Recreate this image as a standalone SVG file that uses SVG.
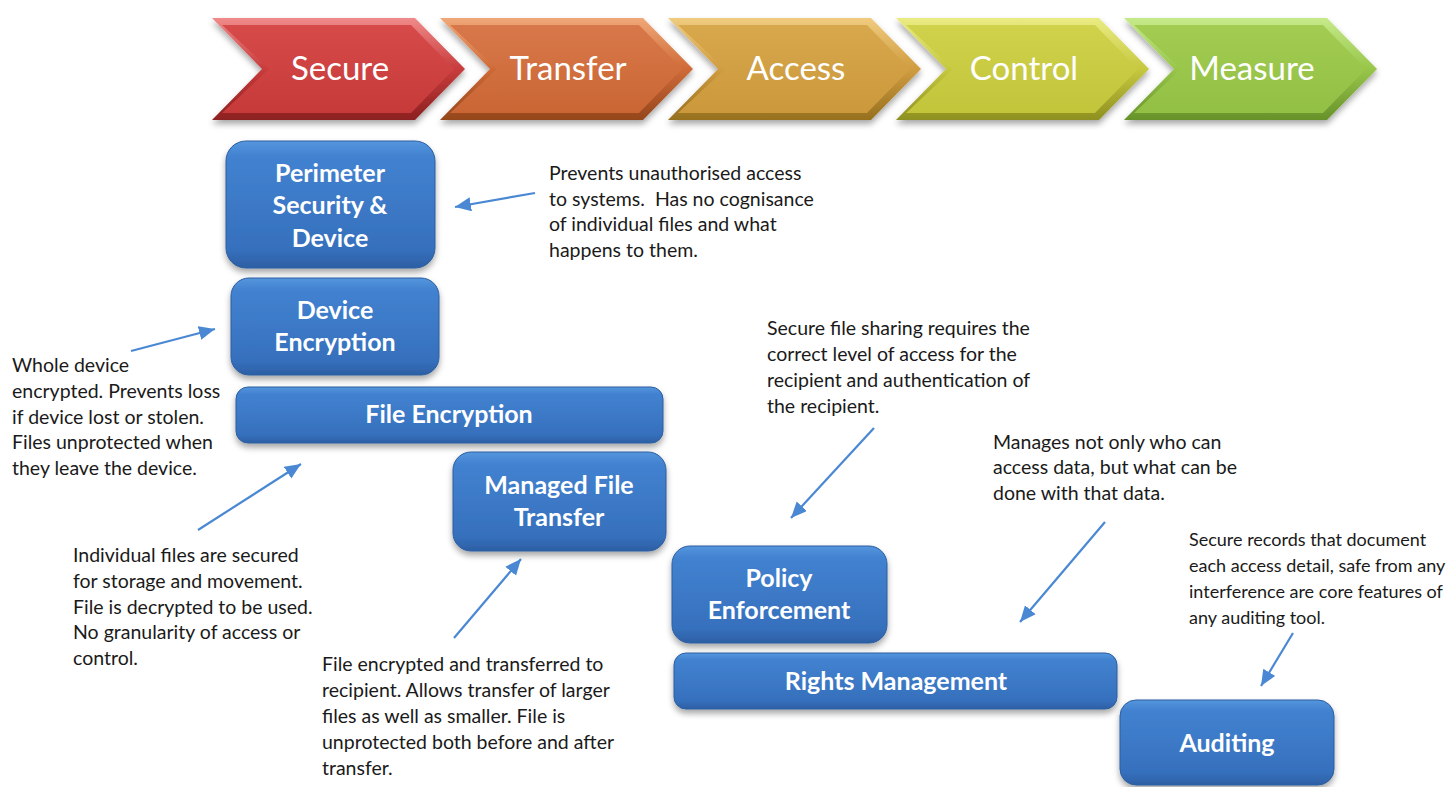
<svg xmlns="http://www.w3.org/2000/svg" width="1447" height="787" viewBox="0 0 1447 787">
  <defs>
    <style>
      .chev-text { font-family: Lato, "Liberation Sans", sans-serif; font-size: 33px; fill: #ffffff; text-anchor: middle; }
      .box-text { font-family: Lato, "Liberation Sans", sans-serif; font-size: 25px; font-weight: bold; fill: #ffffff; text-anchor: middle; }
      .note { font-family: Lato, "Liberation Sans", sans-serif; font-size: 19.5px; fill: #1a1a1a; }
      .note.compact { font-size: 18px; }
      .box { fill: url(#boxFill); stroke: #2c5e9f; stroke-width: 1; filter: url(#shadow); }
      .conn { stroke: #4a88d4; stroke-width: 2.2; fill: none; marker-end: url(#head); }
    </style>
    <filter id="shadow" x="-10%" y="-10%" width="120%" height="130%">
      <feDropShadow dx="0" dy="4" stdDeviation="3" flood-color="#000000" flood-opacity="0.35"/>
    </filter>
    <linearGradient id="boxFill" x1="0" y1="0" x2="0" y2="1">
      <stop offset="0" stop-color="#5596de"/>
      <stop offset="0.12" stop-color="#4282d0"/>
      <stop offset="0.85" stop-color="#3670bd"/>
      <stop offset="1" stop-color="#2d5fa4"/>
    </linearGradient>
    <!-- chevron bevels: edge gradient (light top, dark bottom) and face gradient -->
    <linearGradient id="edgeRed" x1="0" y1="0" x2="0" y2="1"><stop offset="0" stop-color="#f08a8a"/><stop offset="0.5" stop-color="#c83c3c"/><stop offset="1" stop-color="#8c2020"/></linearGradient>
    <linearGradient id="faceRed" x1="0" y1="0" x2="0" y2="1"><stop offset="0" stop-color="#d64a4a"/><stop offset="1" stop-color="#c63a3a"/></linearGradient>
    <linearGradient id="edgeOrange" x1="0" y1="0" x2="0" y2="1"><stop offset="0" stop-color="#f0a878"/><stop offset="0.5" stop-color="#cf6a38"/><stop offset="1" stop-color="#94461c"/></linearGradient>
    <linearGradient id="faceOrange" x1="0" y1="0" x2="0" y2="1"><stop offset="0" stop-color="#d8784a"/><stop offset="1" stop-color="#ca6634"/></linearGradient>
    <linearGradient id="edgeGold" x1="0" y1="0" x2="0" y2="1"><stop offset="0" stop-color="#f0cc80"/><stop offset="0.5" stop-color="#d09c40"/><stop offset="1" stop-color="#96701e"/></linearGradient>
    <linearGradient id="faceGold" x1="0" y1="0" x2="0" y2="1"><stop offset="0" stop-color="#d8a84c"/><stop offset="1" stop-color="#cc983c"/></linearGradient>
    <linearGradient id="edgeLime" x1="0" y1="0" x2="0" y2="1"><stop offset="0" stop-color="#eaec84"/><stop offset="0.5" stop-color="#c6c840"/><stop offset="1" stop-color="#8e9020"/></linearGradient>
    <linearGradient id="faceLime" x1="0" y1="0" x2="0" y2="1"><stop offset="0" stop-color="#d0d24c"/><stop offset="1" stop-color="#c2c43a"/></linearGradient>
    <linearGradient id="edgeGreen" x1="0" y1="0" x2="0" y2="1"><stop offset="0" stop-color="#c6ea8a"/><stop offset="0.5" stop-color="#98c64a"/><stop offset="1" stop-color="#66922a"/></linearGradient>
    <linearGradient id="faceGreen" x1="0" y1="0" x2="0" y2="1"><stop offset="0" stop-color="#a2cc52"/><stop offset="1" stop-color="#92c044"/></linearGradient>
    <marker id="head" markerUnits="userSpaceOnUse" markerWidth="18" markerHeight="16" refX="16" refY="7" orient="auto">
      <path d="M0,0 L16,7 L0,14 Z" fill="#4a88d4"/>
    </marker>
    <!-- one chevron outline, reused for each step -->
    <polygon id="chevOuter" points="0,18 203,18 253,69 203,120 0,120 50,69"/>
    <polygon id="chevInner" points="10,25 199,25 242,69 199,113 10,113 57,69"/>
  </defs>

  <rect width="1447" height="787" fill="#ffffff"/>

  <!-- process steps -->
  <g id="step-secure" transform="translate(212,0)">
    <use href="#chevOuter" fill="url(#edgeRed)" filter="url(#shadow)"/>
    <use href="#chevInner" fill="url(#faceRed)"/>
    <text class="chev-text" x="128" y="80">Secure</text>
  </g>
  <g id="step-transfer" transform="translate(440,0)">
    <use href="#chevOuter" fill="url(#edgeOrange)" filter="url(#shadow)"/>
    <use href="#chevInner" fill="url(#faceOrange)"/>
    <text class="chev-text" x="128" y="80">Transfer</text>
  </g>
  <g id="step-access" transform="translate(668,0)">
    <use href="#chevOuter" fill="url(#edgeGold)" filter="url(#shadow)"/>
    <use href="#chevInner" fill="url(#faceGold)"/>
    <text class="chev-text" x="128" y="80">Access</text>
  </g>
  <g id="step-control" transform="translate(896,0)">
    <use href="#chevOuter" fill="url(#edgeLime)" filter="url(#shadow)"/>
    <use href="#chevInner" fill="url(#faceLime)"/>
    <text class="chev-text" x="128" y="80">Control</text>
  </g>
  <g id="step-measure" transform="translate(1124,0)">
    <use href="#chevOuter" fill="url(#edgeGreen)" filter="url(#shadow)"/>
    <use href="#chevInner" fill="url(#faceGreen)"/>
    <text class="chev-text" x="128" y="80">Measure</text>
  </g>

  <!-- capability blocks -->
  <g id="perimeter">
    <rect class="box" x="226" y="141" width="209" height="127" rx="20"/>
    <text class="box-text" x="330" y="182">Perimeter</text>
    <text class="box-text" x="330" y="214">Security &amp;</text>
    <text class="box-text" x="330" y="247">Device</text>
  </g>
  <g id="device-encryption">
    <rect class="box" x="231" y="278" width="208" height="97" rx="18"/>
    <text class="box-text" x="335" y="319">Device</text>
    <text class="box-text" x="335" y="351">Encryption</text>
  </g>
  <g id="file-encryption">
    <rect class="box" x="236" y="387" width="427" height="56" rx="12"/>
    <text class="box-text" x="449" y="423">File Encryption</text>
  </g>
  <g id="managed-file-transfer">
    <rect class="box" x="453" y="452" width="213" height="99" rx="18"/>
    <text class="box-text" x="559" y="494">Managed File</text>
    <text class="box-text" x="559" y="526">Transfer</text>
  </g>
  <g id="policy-enforcement">
    <rect class="box" x="672" y="546" width="215" height="97" rx="18"/>
    <text class="box-text" x="779" y="587">Policy</text>
    <text class="box-text" x="779" y="619">Enforcement</text>
  </g>
  <g id="rights-management">
    <rect class="box" x="674" y="653" width="443" height="56" rx="12"/>
    <text class="box-text" x="896" y="690">Rights Management</text>
  </g>
  <g id="auditing">
    <rect class="box" x="1120" y="700" width="214" height="85" rx="16"/>
    <text class="box-text" x="1227" y="752">Auditing</text>
  </g>

  <!-- descriptions -->
  <g id="note-perimeter" class="note">
    <text x="549" y="180">Prevents unauthorised access</text>
    <text x="549" y="206">to systems.&#160; Has no cognisance</text>
    <text x="549" y="231">of individual files and what</text>
    <text x="549" y="257">happens to them.</text>
  </g>
  <g id="note-device" class="note">
    <text x="12" y="372">Whole device</text>
    <text x="12" y="398">encrypted. Prevents loss</text>
    <text x="12" y="424">if device lost or stolen.</text>
    <text x="12" y="449">Files unprotected when</text>
    <text x="12" y="475">they leave the device.</text>
  </g>
  <g id="note-file" class="note">
    <text x="73" y="562">Individual files are secured</text>
    <text x="73" y="588">for storage and movement.</text>
    <text x="73" y="614">File is decrypted to be used.</text>
    <text x="73" y="639">No granularity of access or</text>
    <text x="73" y="665">control.</text>
  </g>
  <g id="note-transfer" class="note">
    <text x="322" y="671">File encrypted and transferred to</text>
    <text x="322" y="697">recipient. Allows transfer of larger</text>
    <text x="322" y="723">files as well as smaller. File is</text>
    <text x="322" y="749">unprotected both before and after</text>
    <text x="322" y="775">transfer.</text>
  </g>
  <g id="note-policy" class="note">
    <text x="767" y="335">Secure file sharing requires the</text>
    <text x="767" y="361">correct level of access for the</text>
    <text x="767" y="387">recipient and authentication of</text>
    <text x="767" y="413">the recipient.</text>
  </g>
  <g id="note-rights" class="note">
    <text x="993" y="449">Manages not only who can</text>
    <text x="993" y="474">access data, but what can be</text>
    <text x="993" y="500">done with that data.</text>
  </g>
  <g id="note-auditing" class="note compact">
    <text x="1189" y="546">Secure records that document</text>
    <text x="1189" y="572">each access detail, safe from any</text>
    <text x="1189" y="598">interference are core features of</text>
    <text x="1189" y="624">any auditing tool.</text>
  </g>

  <!-- pointers from descriptions to blocks -->
  <g id="connectors">
    <line class="conn" x1="535" y1="193" x2="455" y2="207"/>
    <line class="conn" x1="131" y1="351" x2="215" y2="329"/>
    <line class="conn" x1="198" y1="530" x2="301" y2="464"/>
    <line class="conn" x1="454" y1="638" x2="521" y2="559"/>
    <line class="conn" x1="874" y1="428" x2="791" y2="518"/>
    <line class="conn" x1="1105" y1="522" x2="1020" y2="622"/>
    <line class="conn" x1="1293" y1="633" x2="1261" y2="686"/>
  </g>
</svg>
